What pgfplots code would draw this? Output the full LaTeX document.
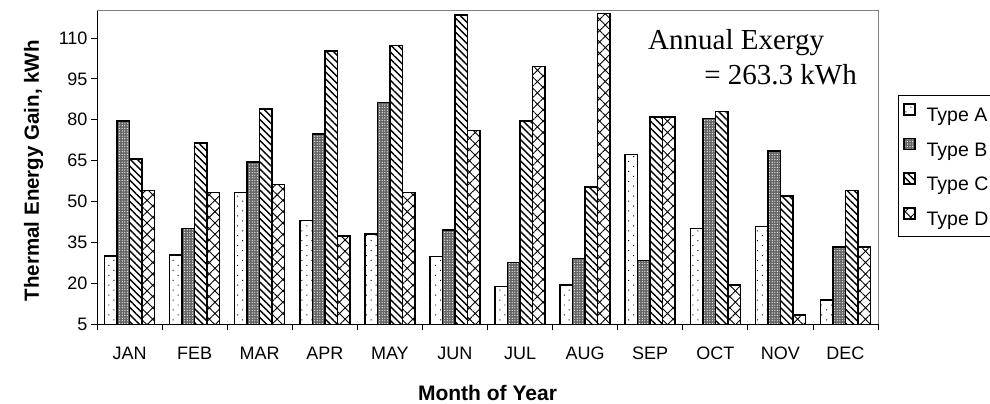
\documentclass[border=0pt]{standalone}
\usepackage{pgfplots}
\pgfplotsset{compat=1.18}
\usepackage{fontspec}
\setmainfont{Liberation Sans}
\newfontfamily\timesfont{Liberation Serif}
\usetikzlibrary{patterns,patterns.meta}

\begin{document}
\begin{tikzpicture}
\path[use as bounding box] (0pt,0pt) rectangle (990pt,404pt);
\begin{axis}[
  at={(97pt,79.7pt)}, anchor=south west,
  width=781pt, height=313.6pt, scale only axis,
  ybar=0pt, bar width=12.5pt,
  xmin=-0.5, xmax=11.5, ymin=5, ymax=120,
  xtick={-0.5,0.5,...,11.5},
  x tick label as interval,
  xticklabels={JAN,FEB,MAR,APR,MAY,JUN,JUL,AUG,SEP,OCT,NOV,DEC},
  ytick={5,20,...,110},
  axis lines*=left,
  axis line style={black, line width=1pt},
  tick align=outside,
  major tick length=6pt,
  tick style={black, line width=0.8pt},
  tick label style={font=\fontsize{18}{20}\selectfont},
  x tick label style={yshift=-13pt},
  /pgf/number format/assume math mode=true,
  xlabel={Month of Year},
  ylabel={Thermal Energy Gain, kWh},
  every axis x label/.style={at={(axis description cs:0.5,-0.2414)}, anchor=base, font=\bfseries\fontsize{21}{23}\selectfont},
  every axis y label/.style={at={(axis description cs:-0.0743,0.49)}, rotate=90, anchor=base, font=\bfseries\fontsize{20.5}{23}\selectfont},
  legend style={at={(axis description cs:1.0256,0.731)}, anchor=north west, draw=black, line width=0.8pt,
    font=\fontsize{19.5}{22}\selectfont, row sep=13pt, inner xsep=5pt, inner ysep=8pt, cells={anchor=west},
    /tikz/every odd column/.append style={column sep=9pt}},
  legend image code/.code={\draw[#1, line width=1.2pt] (0pt,0.5pt) rectangle (11pt,11.5pt);},
]
% Type A
\addplot[draw=black, line width=1.5pt, preaction={fill=white}, pattern={Dots[distance=7pt,radius=0.7pt,angle=45]}, pattern color=black] coordinates {
(0,30.0) (1,30.5) (2,53.4) (3,43.0) (4,38.1) (5,29.9) (6,18.8) (7,19.5) (8,67.2) (9,40.2) (10,40.9) (11,13.9)};
% Type B
\addplot[draw=black, line width=1.5pt, preaction={fill=black!60}, pattern={Dots[distance=2.6pt,radius=0.6pt]}, pattern color=white] coordinates {
(0,79.6) (1,40.2) (2,64.5) (3,74.8) (4,86.4) (5,39.6) (6,27.7) (7,29.1) (8,28.4) (9,80.4) (10,68.5) (11,33.3)};
% Type C
\addplot[draw=black, line width=1.5pt, preaction={fill=white}, pattern={Lines[angle=-45,distance=5pt,line width=1.4pt]}, pattern color=black] coordinates {
(0,65.7) (1,71.4) (2,83.9) (3,105.2) (4,107.2) (5,118.5) (6,79.6) (7,55.4) (8,81.0) (9,83.0) (10,52.0) (11,54.1)};
% Type D
\addplot[draw=black, line width=1.5pt, preaction={fill=white}, pattern={Hatch[angle=45,distance=8pt,line width=0.9pt]}, pattern color=black] coordinates {
(0,54.1) (1,53.4) (2,56.2) (3,37.4) (4,53.4) (5,76.1) (6,99.6) (7,119.0) (8,81.0) (9,19.5) (10,8.4) (11,33.3)};
\legend{Type A, Type B, Type C, Type D}
\node[anchor=base west, inner sep=0pt, font=\timesfont\fontsize{29}{32}\selectfont] at (axis description cs:0.7055,0.8747) {Annual Exergy};
\node[anchor=base east, inner sep=0pt, font=\timesfont\fontsize{29}{32}\selectfont] at (axis description cs:0.9731,0.7631) {= 263.3 kWh};
\coordinate (tl) at (rel axis cs:0,1);
\coordinate (tr) at (rel axis cs:1,1);
\coordinate (br) at (rel axis cs:1,0);
\end{axis}
\draw[black!50, line width=1pt] (tl) -- (tr) -- (br);
\end{tikzpicture}
\end{document}
